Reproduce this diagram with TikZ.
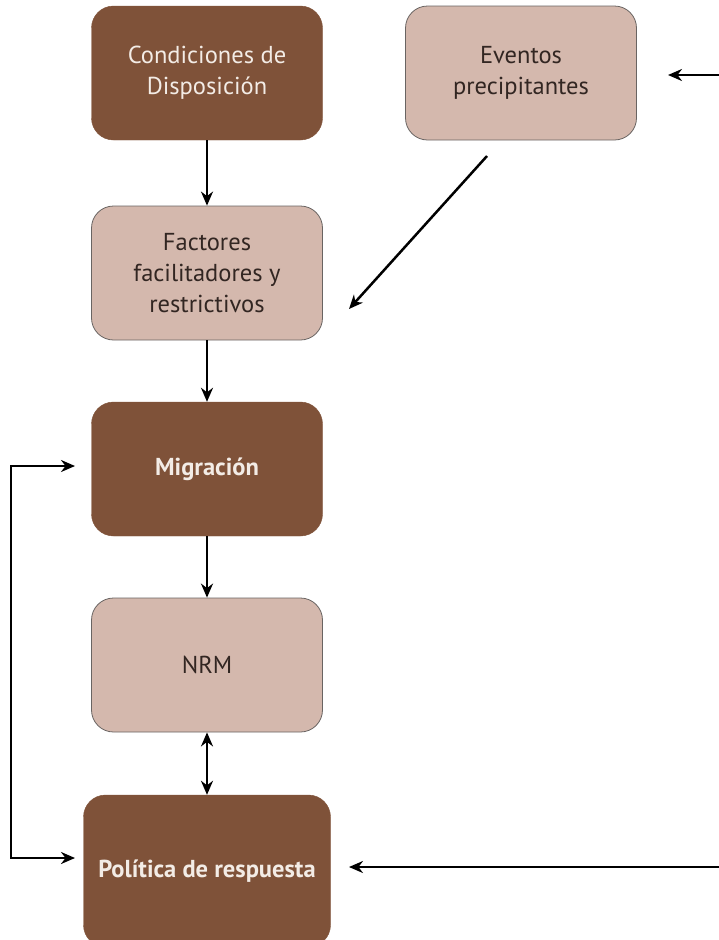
\documentclass[tikz,border=0pt]{standalone}
\usepackage{fontspec}
\setmainfont{PT Sans}
\usepackage{tikz}
\usetikzlibrary{arrows.meta}
\definecolor{darkbrown}{RGB}{127, 82, 57}
\definecolor{lightbrown}{RGB}{212, 184, 173}
\definecolor{boxline}{RGB}{105, 100, 98}
\definecolor{lighttext}{RGB}{243, 236, 230}
\definecolor{darktext}{RGB}{50, 38, 34}

\begin{document}
\begin{tikzpicture}[x=1pt, y=-1pt, node distance=196pt, font=\fontsize{24.5}{31}\selectfont]
    % Define styles
    \tikzstyle{dark} = [rectangle, rounded corners=22pt, minimum width=231pt, minimum height=134pt, align=center, draw=darkbrown, fill=darkbrown, text=lighttext]
    \tikzstyle{light} = [rectangle, rounded corners=22pt, minimum width=231pt, minimum height=134pt, align=center, draw=boxline, line width=0.8pt, fill=lightbrown, text=darktext]
    \tikzstyle{arrow} = [line width=2.5pt, -{Stealth[length=14pt, width=12pt]}, color=black]

    \useasboundingbox (0,0) rectangle (719,940);

    % Nodes
    \node [dark] (cond) at (207,73) {Condiciones de\\Disposición};
    \node [light, right of=cond, xshift=118pt] (eventos) {Eventos\\precipitantes};
    \node [light, below of=cond, yshift=-4pt] (fact) {Factores\\facilitadores y\\restrictivos};
    \node [dark, below of=fact] (migr) {\bfseries Migración};
    \node [light, below of=migr] (nrm) {NRM};
    \node [dark, below of=nrm, yshift=-10pt, minimum width=247pt, minimum height=152pt] (polit) {\bfseries Política de respuesta};

    % Free ends
    \coordinate (evout) at (487,156);
    \coordinate (factin) at (349,309);
    \coordinate (evsrc) at (719,75);
    \coordinate (evtip) at (668,75);
    \coordinate (polsrc) at (719,867);
    \coordinate (poltip) at (349,867);
    \coordinate (migtip) at (75,466);
    \coordinate (loopin) at (75,858);
    \coordinate (loopleft) at (11,858);

    % Arrows
    \draw [arrow] (cond) -- (fact);
    \draw [arrow] (fact) -- (migr);
    \draw [arrow] (migr) -- (nrm);
    \draw [arrow, {Stealth[length=14pt, width=12pt]}-{Stealth[length=14pt, width=12pt]}] (nrm) -- (polit);
    \draw [arrow] (evout) -- (factin);
    \draw [arrow] (evsrc) -- (evtip);
    \draw [arrow] (polsrc) -- (poltip);

    % Feedback loop
    \draw [arrow, {Stealth[length=14pt, width=12pt]}-{Stealth[length=14pt, width=12pt]}] (loopin) -- (loopleft) |- (migtip);
\end{tikzpicture}
\end{document}
